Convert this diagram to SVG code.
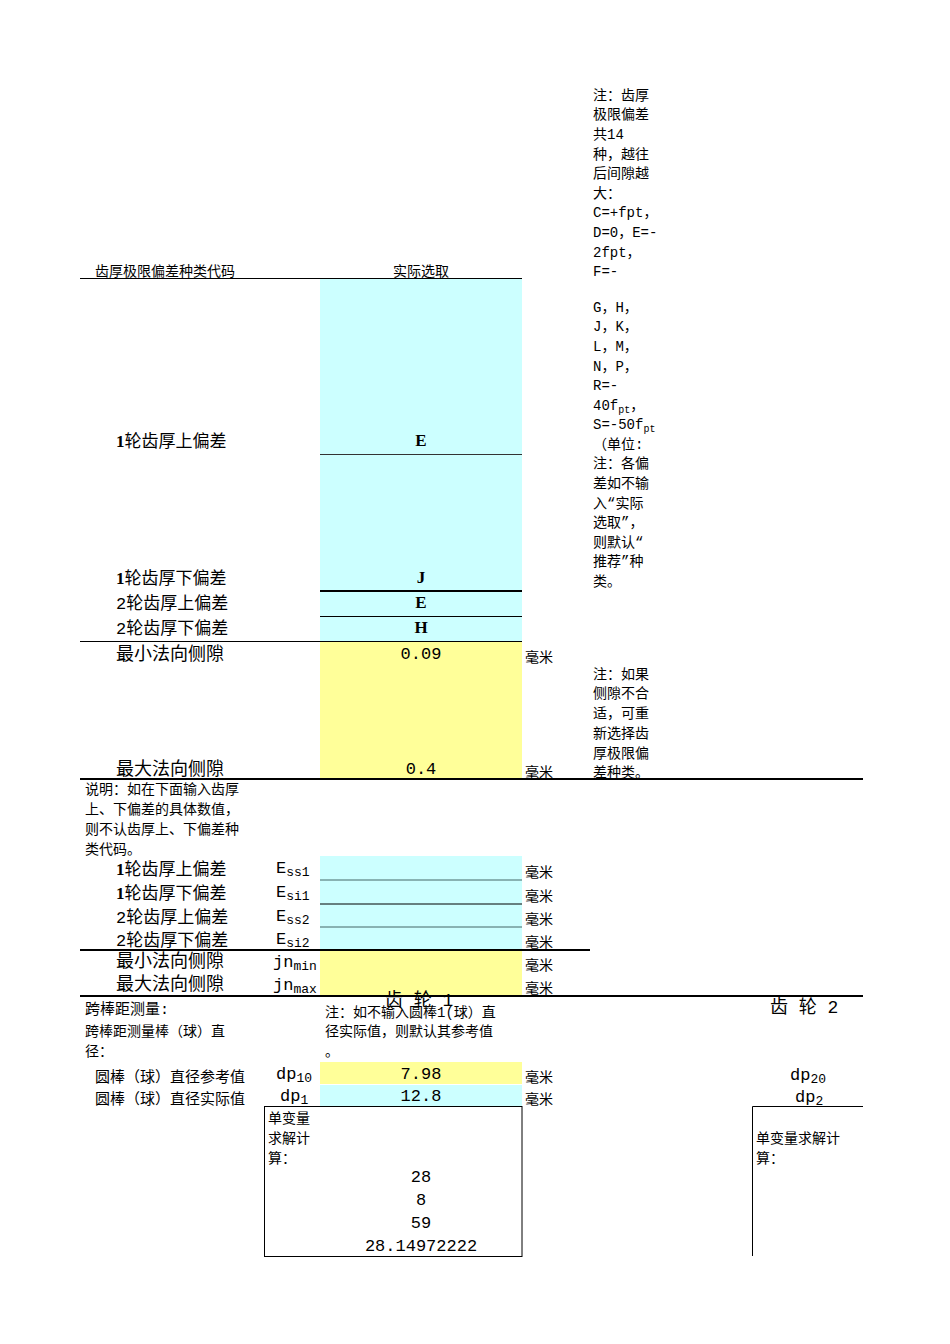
<svg xmlns="http://www.w3.org/2000/svg" width="950" height="1344" viewBox="0 0 950 1344">
<style>
text{font-family:"Liberation Mono","Noto Sans CJK SC",monospace;font-size:14px;fill:#000}
.b{font-size:17px}
.m{text-anchor:middle}
.bd{font-weight:bold;font-family:"Liberation Serif","Noto Sans CJK SC",serif}
.s{font-size:10px}
.t{font-size:13px}
</style>
<rect width="950" height="1344" fill="#fff"/>
<g id="fills">
<rect x="320" y="279" width="202" height="362" fill="#ccffff"/>
<rect x="320" y="642" width="202" height="136" fill="#ffff99"/>
<rect x="320" y="856" width="202" height="93" fill="#ccffff"/>
<rect x="320" y="951" width="202" height="44" fill="#ffff99"/>
<rect x="320" y="1062" width="202" height="22" fill="#ffff99"/>
<rect x="320" y="1085" width="202" height="21" fill="#ccffff"/>
</g>
<g id="connectors" stroke="#000" fill="none">
<line x1="80" y1="278.5" x2="522" y2="278.5"/>
<line x1="320" y1="454.5" x2="522" y2="454.5" stroke="#333"/>
<line x1="320" y1="591" x2="522" y2="591" stroke-width="2"/>
<line x1="320" y1="616.5" x2="522" y2="616.5"/>
<line x1="80" y1="641.5" x2="522" y2="641.5"/>
<line x1="80" y1="779" x2="863" y2="779" stroke-width="2"/>
<line x1="320" y1="880" x2="522" y2="880" stroke="#466"/>
<line x1="320" y1="904" x2="522" y2="904"/>
<line x1="320" y1="927" x2="522" y2="927" stroke="#466"/>
<line x1="80" y1="950" x2="590" y2="950" stroke-width="2"/>
<line x1="80" y1="996" x2="863" y2="996" stroke-width="2"/>
<rect x="264.5" y="1106.5" width="257.5" height="150"/>
<polyline points="752.5,1256 752.5,1106.5 863,1106.5"/>
</g>
<g id="header">
<text x="95" y="276">齿厚极限偏差种类代码</text>
<text x="421" y="276" class="m">实际选取</text>
</g>
<g id="labels1">
<text x="116" y="447" class="b"><tspan class="bd">1</tspan>轮齿厚上偏差</text>
<text x="421" y="446" class="m bd b">E</text>
<text x="116" y="584" class="b"><tspan class="bd">1</tspan>轮齿厚下偏差</text>
<text x="421" y="583" class="m bd b">J</text>
<text x="116" y="609" class="b">2轮齿厚上偏差</text>
<text x="421" y="608" class="m bd b">E</text>
<text x="116" y="634" class="b">2轮齿厚下偏差</text>
<text x="421" y="633" class="m bd b">H</text>
<text x="116" y="660" style="font-size:18px">最小法向侧隙</text>
<text x="421" y="659" class="m b">0.09</text>
<text x="525" y="662">毫米</text>
<text x="116" y="775" style="font-size:18px">最大法向侧隙</text>
<text x="421" y="774" class="m b">0.4</text>
<text x="525" y="777">毫米</text>
</g>
<g id="note1">
<text x="593" y="100">注：齿厚</text>
<text x="593" y="119">极限偏差</text>
<text x="593" y="139">共14</text>
<text x="593" y="159">种，越往</text>
<text x="593" y="178">后间隙越</text>
<text x="593" y="198">大：</text>
<text x="593" y="217">C=+fpt，</text>
<text x="593" y="237">D=0，E=-</text>
<text x="593" y="257">2fpt，</text>
<text x="593" y="276">F=-</text>
<text x="593" y="312">G，H，</text>
<text x="593" y="331">J，K，</text>
<text x="593" y="351">L，M，</text>
<text x="593" y="371">N，P，</text>
<text x="593" y="390">R=-</text>
<text x="593" y="410">40f<tspan class="s" dy="3">pt</tspan><tspan dy="-3">，</tspan></text>
<text x="593" y="429">S=-50f<tspan class="s" dy="3">pt</tspan></text>
<text x="593" y="449">（单位:</text>
<text x="593" y="468">注：各偏</text>
<text x="593" y="488">差如不输</text>
<text x="593" y="508">入“实际</text>
<text x="593" y="527">选取”，</text>
<text x="593" y="547">则默认“</text>
<text x="593" y="566">推荐”种</text>
<text x="593" y="586">类。</text>
<text x="593" y="679">注：如果</text>
<text x="593" y="698">侧隙不合</text>
<text x="593" y="718">适，可重</text>
<text x="593" y="738">新选择齿</text>
<text x="593" y="758">厚极限偏</text>
<text x="593" y="777">差种类。</text>
</g>
<g id="explain">
<text x="85" y="794">说明：如在下面输入齿厚</text>
<text x="85" y="814">上、下偏差的具体数值，</text>
<text x="85" y="834">则不认齿厚上、下偏差种</text>
<text x="85" y="854">类代码。</text>
</g>
<g id="labels2">
<text x="116" y="875" class="b"><tspan class="bd">1</tspan>轮齿厚上偏差</text>
<text x="276" y="873" class="b">E<tspan class="t" dy="3">ss1</tspan></text>
<text x="525" y="877">毫米</text>
<text x="116" y="899" class="b"><tspan class="bd">1</tspan>轮齿厚下偏差</text>
<text x="276" y="897" class="b">E<tspan class="t" dy="3">si1</tspan></text>
<text x="525" y="901">毫米</text>
<text x="116" y="923" class="b">2轮齿厚上偏差</text>
<text x="276" y="921" class="b">E<tspan class="t" dy="3">ss2</tspan></text>
<text x="525" y="924">毫米</text>
<text x="116" y="946" class="b">2轮齿厚下偏差</text>
<text x="276" y="944" class="b">E<tspan class="t" dy="3">si2</tspan></text>
<text x="525" y="947">毫米</text>
<text x="116" y="967" style="font-size:18px">最小法向侧隙</text>
<text x="273" y="967" class="b">jn<tspan class="t" dy="3">min</tspan></text>
<text x="525" y="970">毫米</text>
<text x="116" y="990" style="font-size:18px">最大法向侧隙</text>
<text x="273" y="990" class="b">jn<tspan class="t" dy="3">max</tspan></text>
<text x="525" y="993">毫米</text>
</g>
<g id="span">
<text x="85" y="1014" style="font-size:15px">跨棒距测量:</text>
<text x="85" y="1036">跨棒距测量棒（球）直</text>
<text x="85" y="1056">径：</text>
<text x="385" y="1006" style="font-size:18px">齿 轮  1</text>
<text x="325" y="1017">注：如不输入圆棒1(球）直</text>
<text x="325" y="1036">径实际值，则默认其参考值</text>
<text x="325" y="1056">。</text>
<text x="770" y="1013" style="font-size:18px">齿 轮  2</text>
<text x="95" y="1082" style="font-size:15px">圆棒（球）直径参考值</text>
<text x="276" y="1079" class="b">dp<tspan class="t" dy="3">10</tspan></text>
<text x="421" y="1079" class="m b">7.98</text>
<text x="525" y="1082">毫米</text>
<text x="790" y="1080" class="b">dp<tspan class="t" dy="3">20</tspan></text>
<text x="95" y="1104" style="font-size:15px">圆棒（球）直径实际值</text>
<text x="280" y="1101" class="b">dp<tspan class="t" dy="3">1</tspan></text>
<text x="421" y="1101" class="m b">12.8</text>
<text x="525" y="1104">毫米</text>
<text x="795" y="1102" class="b">dp<tspan class="t" dy="3">2</tspan></text>
</g>
<g id="solver">
<text x="268" y="1123">单变量</text>
<text x="268" y="1143">求解计</text>
<text x="268" y="1163">算：</text>
<text x="421" y="1182" class="m b">28</text>
<text x="421" y="1205" class="m b">8</text>
<text x="421" y="1228" class="m b">59</text>
<text x="421" y="1251" class="m b">28.14972222</text>
<text x="756" y="1143">单变量求解计</text>
<text x="756" y="1163">算：</text>
</g>
</svg>
